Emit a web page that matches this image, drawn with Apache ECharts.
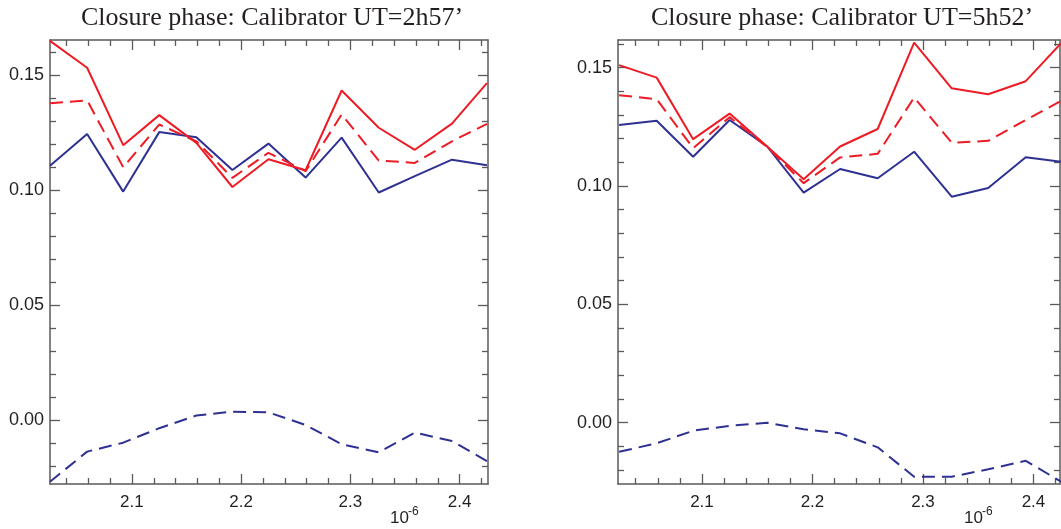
<!DOCTYPE html>
<html>
<head>
    <meta charset="utf-8">
    <title>Closure phase</title>
    <style>
        html, body { margin: 0; padding: 0; background: #fff; }
        #chart { width: 1061px; height: 529px; }
    </style>
</head>
<body>
<div id="chart"></div>
<script src="https://cdn.jsdelivr.net/npm/echarts@6/dist/echarts.min.js"></script>
<script>
    // wavelength (x 1e-6 m)
    var wavelength = [2.025, 2.059, 2.092, 2.125, 2.159, 2.192, 2.225, 2.259, 2.292, 2.326, 2.359, 2.393, 2.425];

    // left panel: calibrator UT=2h57'
    var redSolidL  = [0.1650, 0.1533, 0.1196, 0.1327, 0.1206, 0.1014, 0.1135, 0.1087, 0.1434, 0.1272, 0.1176, 0.1290, 0.1466];
    var redDashL   = [0.1379, 0.1391, 0.1100, 0.1286, 0.1213, 0.1054, 0.1163, 0.1083, 0.1330, 0.1129, 0.1119, 0.1213, 0.1289];
    var blueSolidL = [0.1107, 0.1245, 0.0994, 0.1253, 0.1231, 0.1088, 0.1203, 0.1055, 0.1229, 0.0990, 0.1061, 0.1133, 0.1109];
    var blueDashL  = [-0.0269, -0.0138, -0.0099, -0.0036, 0.0019, 0.0036, 0.0033, -0.0022, -0.0106, -0.0141, -0.0055, -0.0092, -0.0179];

    // right panel: calibrator UT=5h52'
    var redSolidR  = [0.1511, 0.1458, 0.1198, 0.1306, 0.1167, 0.1029, 0.1167, 0.1241, 0.1606, 0.1413, 0.1388, 0.1443, 0.1604];
    var redDashR   = [0.1384, 0.1367, 0.1160, 0.1291, 0.1165, 0.1012, 0.1121, 0.1136, 0.1374, 0.1183, 0.1191, 0.1279, 0.1360];
    var blueSolidR = [0.1258, 0.1276, 0.1124, 0.1279, 0.1167, 0.0972, 0.1072, 0.1033, 0.1145, 0.0955, 0.0992, 0.1122, 0.1103];
    var blueDashR  = [-0.0123, -0.0087, -0.0034, -0.0013, 0.0000, -0.0028, -0.0045, -0.0104, -0.0228, -0.0228, -0.0197, -0.0161, -0.0249];

    var titles = ['Closure phase: Calibrator UT=2h57\u2019', 'Closure phase: Calibrator UT=5h52\u2019'];

    // ticks
    var xMajor = [2.1, 2.2, 2.3, 2.4];
    var xMinor = [2.04, 2.06, 2.08, 2.12, 2.14, 2.16, 2.18, 2.22, 2.24, 2.26, 2.28, 2.32, 2.34, 2.36, 2.38, 2.42];
    var yMajor = [0, 0.05, 0.10, 0.15];
    var yMinor = [-0.02, -0.01, 0.01, 0.02, 0.03, 0.04, 0.06, 0.07, 0.08, 0.09, 0.11, 0.12, 0.13, 0.14, 0.16];

    var RED = '#ed1c24';
    var BLUE = '#2e3192';
    var AXIS = '#5a5a5a';
    var TEXT = '#231f20';

    var chart = echarts.init(document.getElementById('chart'));

    /**
     * four axes for one dimension of a grid: major + minor ticks, on both sides (boxed frame)
     */
    function frameAxes(dim, grid, min, max, majors, minors, fmt) {
        var sides = dim === 'x' ? ['bottom', 'top'] : ['left', 'right'];
        var list = [];
        sides.forEach(function (side, k) {
            list.push({
                type: 'value', gridIndex: grid, position: side, min: min, max: max,
                axisLine: { show: true, onZero: false, lineStyle: { color: AXIS, width: 1.5 } },
                axisTick: { show: true, inside: true, length: 10, customValues: majors, lineStyle: { color: AXIS, width: 1.3 } },
                axisLabel: {
                    show: k === 0, customValues: majors, formatter: fmt,
                    margin: dim === 'x' ? 10 : 6,
                    color: TEXT, fontSize: dim === 'x' ? 17 : 18, fontFamily: 'Liberation Sans'
                },
                splitLine: { show: false }
            });
            list.push({
                type: 'value', gridIndex: grid, position: side, min: min, max: max,
                axisLine: { show: false, onZero: false },
                axisTick: { show: true, inside: true, length: 6, customValues: minors, lineStyle: { color: AXIS, width: 1.3 } },
                axisLabel: { show: false },
                splitLine: { show: false }
            });
        });
        return list;
    }

    function fmtX(v) { return v.toFixed(1); }
    function fmtY(v) { return v.toFixed(2); }

    function makeSeries(axis, ys, color, dashed) {
        return {
            type: 'line',
            xAxisIndex: axis, yAxisIndex: axis,
            data: wavelength.map(function (x, i) { return [x, ys[i]]; }),
            symbol: 'none',
            lineStyle: { color: color, width: 2, type: dashed ? [13, 7] : 'solid' },
            clip: true,
            z: 3
        };
    }

    var grids = [
        { left: 50, right: 573, top: 40, bottom: 45 },
        { left: 618, right: 1, top: 40, bottom: 45 }
    ];

    var xAxes = frameAxes('x', 0, 2.025, 2.426, xMajor, xMinor, fmtX)
        .concat(frameAxes('x', 1, 2.024, 2.424, xMajor, xMinor, fmtX));
    var yAxes = frameAxes('y', 0, -0.0279, 0.1654, yMajor, yMinor, fmtY)
        .concat(frameAxes('y', 1, -0.0259, 0.1617, yMajor, yMinor, fmtY));

    var series = [
        makeSeries(0, blueDashL, BLUE, true),
        makeSeries(0, blueSolidL, BLUE, false),
        makeSeries(0, redDashL, RED, true),
        makeSeries(0, redSolidL, RED, false),
        makeSeries(4, blueDashR, BLUE, true),
        makeSeries(4, blueSolidR, BLUE, false),
        makeSeries(4, redDashR, RED, true),
        makeSeries(4, redSolidR, RED, false)
    ];

    var titleStyle = { color: TEXT, fontSize: 26, fontWeight: 'normal', fontFamily: 'Liberation Serif' };

    // x-axis scale factor "10^-6"
    function exponent(left) {
        return [
            { type: 'text', left: left, top: 510, style: { text: '10', fontSize: 17, fontFamily: 'Liberation Sans', fill: TEXT } },
            { type: 'text', left: left + 18, top: 506, style: { text: '-6', fontSize: 12, fontFamily: 'Liberation Sans', fill: TEXT } }
        ];
    }

    var option = {
        animation: false,
        title: [
            { text: titles[0], left: 267, top: 0, textAlign: 'center', textStyle: titleStyle },
            { text: titles[1], left: 837, top: 0, textAlign: 'center', textStyle: titleStyle }
        ],
        grid: grids,
        xAxis: xAxes,
        yAxis: yAxes,
        series: series,
        graphic: exponent(390).concat(exponent(964))
    };
    chart.setOption(option);
</script>
</body>
</html>
